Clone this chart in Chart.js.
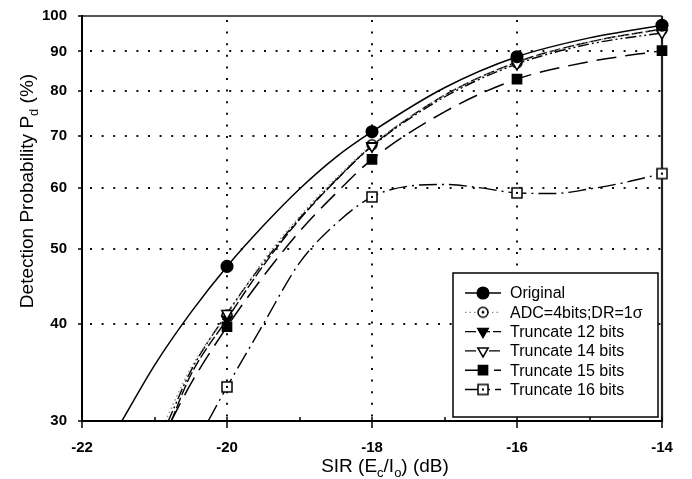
<!DOCTYPE html>
<html><head><meta charset="utf-8">
<script src="https://cdn.jsdelivr.net/npm/chart.js@4/dist/chart.umd.min.js"></script>
<style>html,body{margin:0;padding:0;background:#fff;} #wrap{width:692px;height:479px;}</style>
</head><body><div id="wrap"><canvas id="c" width="692" height="479"></canvas></div>
<script>
// ---- data ----
const seriesNames = ['Original', 'ADC=4bits;DR=1\u03c3', 'Truncate 12 bits', 'Truncate 14 bits', 'Truncate 15 bits', 'Truncate 16 bits'];
const sirMeasured = [-20, -18, -16, -14];
const pdOriginal = [47.5, 70.9, 88.6, 97.3];
const pdAdc = [41.1, 68.2, 87.0, 96.0];
const pdTrunc12 = [40.6, 68.0, 87.2, 96.2];
const pdTrunc14 = [41.3, 67.9, 86.7, 95.1];
const pdTrunc15 = [39.7, 65.3, 82.9, 90.2];
const pdTrunc16 = [33.2, 58.4, 59.1, 62.6];

// fitted curves
const fitOriginalX = [-21.45, -21, -20.5, -20, -19.5, -19, -18.5, -18, -17, -16, -15, -14];
const fitOriginalY = [30, 35.4, 41.4, 47.5, 53.6, 59.8, 65.7, 70.9, 80.8, 88.6, 93.7, 97.3];
const fitAdcX = [-20.85, -20.5, -20, -19.5, -19, -18.5, -18, -17, -16, -15, -14];
const fitAdcY = [30, 35.1, 41.1, 48.3, 55.1, 61.7, 68.2, 79.0, 87.0, 92.6, 96.0];
const fitTrunc12X = [-20.77, -20.5, -20, -19.5, -19, -18.5, -18, -17, -16, -15, -14];
const fitTrunc12Y = [30, 34.4, 40.6, 47.6, 54.6, 61.3, 68.0, 79.0, 87.2, 92.6, 96.2];
const fitTrunc14X = [-20.81, -20.5, -20, -19.5, -19, -18.5, -18, -17, -16, -15, -14];
const fitTrunc14Y = [30, 34.8, 41.3, 48.0, 54.8, 61.4, 67.9, 78.6, 86.7, 92.0, 95.1];
const fitTrunc15X = [-20.77, -20.5, -20, -19.5, -19, -18.5, -18, -17, -16, -15, -14];
const fitTrunc15Y = [30, 33.5, 39.7, 46.1, 52.7, 59.0, 65.3, 75.2, 82.9, 87.3, 90.2];
const fitTrunc16X = [-20.26, -20, -19.5, -19, -18.5, -18, -17.5, -17, -16.5, -16, -15.5, -15, -14.5, -14];
const fitTrunc16Y = [30, 33.2, 40.0, 48.0, 53.9, 58.4, 60.3, 60.6, 60.0, 59.1, 59.0, 59.8, 61.0, 62.6];

const xTicks = [-22, -20, -18, -16, -14];
const xMinorTicks = [-21, -19, -17, -15];
const yTicks = [30, 40, 50, 60, 70, 80, 90, 100];
const xGridLines = [-20, -18, -16];
const yGridLines = [40, 50, 60, 70, 80, 90];

const FONT = '"Liberation Sans", Arial, sans-serif';

function pts(xs, ys) { return xs.map((x, i) => ({x: x, y: ys[i]})); }

function markerCanvas(kind) {
  const s = 16, c = document.createElement('canvas');
  c.width = s; c.height = s;
  const g = c.getContext('2d');
  g.lineWidth = 1.5; g.strokeStyle = '#000'; g.fillStyle = '#fff';
  if (kind === 'circleDot') {
    g.beginPath(); g.arc(8, 8, 5, 0, Math.PI * 2); g.fill(); g.stroke();
    g.fillStyle = '#000'; g.beginPath(); g.arc(8, 8, 1.4, 0, Math.PI * 2); g.fill();
  } else {
    g.fillRect(3, 3, 10, 10); g.strokeRect(3, 3, 10, 10);
    g.fillStyle = '#000'; g.fillRect(7, 7, 2, 2);
  }
  return c;
}
const circleDot = markerCanvas('circleDot');
const squareDot = markerCanvas('squareDot');

const markerSpecs = [
  {data: pdOriginal, pointStyle: 'circle', radius: 5.8, rotation: 0, bg: '#000', order: 0},
  {data: pdAdc, pointStyle: circleDot, radius: 6, rotation: 0, bg: '#fff', order: 4},
  {data: pdTrunc12, pointStyle: 'triangle', radius: 6, rotation: 180, bg: '#000', order: 3},
  {data: pdTrunc14, pointStyle: 'triangle', radius: 6, rotation: 180, bg: '#fff', order: 1},
  {data: pdTrunc15, pointStyle: 'rect', radius: 6.5, rotation: 0, bg: '#000', order: 2},
  {data: pdTrunc16, pointStyle: squareDot, radius: 6, rotation: 0, bg: '#fff', order: 1}
];
const curveSpecs = [
  {data: pts(fitOriginalX, fitOriginalY), dash: [], color: '#000', width: 1.5},
  {data: pts(fitAdcX, fitAdcY), dash: [1.5, 3], color: '#8a8a8a', width: 1.3},
  {data: pts(fitTrunc12X, fitTrunc12Y), dash: [11, 3], color: '#000', width: 1.4},
  {data: pts(fitTrunc14X, fitTrunc14Y), dash: [11, 3, 2, 3, 2, 3], color: '#000', width: 1.4},
  {data: pts(fitTrunc15X, fitTrunc15Y), dash: [20, 9], color: '#000', width: 1.5},
  {data: pts(fitTrunc16X, fitTrunc16Y), dash: [18, 5, 2, 5], color: '#000', width: 1.4}
];

const datasets = [];
markerSpecs.forEach((m, i) => {
  datasets.push({
    label: seriesNames[i],
    data: pts(sirMeasured, m.data),
    showLine: false,
    clip: false,
    order: m.order,
    pointStyle: m.pointStyle,
    pointRadius: m.radius,
    pointRotation: m.rotation,
    pointBackgroundColor: m.bg,
    pointBorderColor: '#000',
    pointBorderWidth: 1.5
  });
});
curveSpecs.forEach((c, i) => {
  datasets.push({
    label: seriesNames[i] + ' fit',
    data: c.data,
    showLine: true,
    order: 10,
    pointRadius: 0,
    borderColor: c.color,
    borderWidth: c.width,
    borderDash: c.dash,
    cubicInterpolationMode: 'monotone',
    fill: false
  });
});

function drawRich(ctx, parts, x, y, size) {
  let cx = x;
  parts.forEach(p => {
    ctx.font = (p.sub ? Math.round(size * 0.68) : size) + 'px ' + FONT;
    ctx.fillText(p.t, cx, y + (p.sub ? size * 0.28 : 0));
    cx += ctx.measureText(p.t).width;
  });
  return cx - x;
}
function richWidth(ctx, parts, size) {
  let w = 0;
  parts.forEach(p => {
    ctx.font = (p.sub ? Math.round(size * 0.68) : size) + 'px ' + FONT;
    w += ctx.measureText(p.t).width;
  });
  return w;
}

const framePlugin = {
  id: 'frame',
  beforeDatasetsDraw(chart) {
    const {ctx, chartArea: a, scales: {x, y}} = chart;
    ctx.save();
    ctx.strokeStyle = '#111';
    ctx.lineWidth = 2;
    ctx.setLineDash([2, 9.6]);
    xGridLines.forEach(v => {
      const px = Math.round(x.getPixelForValue(v));
      ctx.beginPath(); ctx.moveTo(px, a.top + 4); ctx.lineTo(px, a.bottom); ctx.stroke();
    });
    yGridLines.forEach(v => {
      const py = Math.round(y.getPixelForValue(v));
      ctx.beginPath(); ctx.moveTo(a.left + 8, py); ctx.lineTo(a.right, py); ctx.stroke();
    });
    ctx.setLineDash([]);
    // frame (drawn before datasets so markers sit on top of it)
    ctx.strokeStyle = '#555'; ctx.lineWidth = 2;
    ctx.beginPath(); ctx.moveTo(a.left, a.top); ctx.lineTo(a.right, a.top); ctx.stroke();
    ctx.strokeStyle = '#222'; ctx.lineWidth = 2.2;
    ctx.beginPath(); ctx.moveTo(a.right, a.top); ctx.lineTo(a.right, a.bottom + 1); ctx.stroke();
    ctx.restore();
  },
  afterDatasetsDraw(chart) {
    const {ctx, chartArea: a, scales: {x, y}} = chart;
    ctx.save();
    ctx.setLineDash([]);
    ctx.strokeStyle = '#000'; ctx.lineWidth = 2;
    ctx.beginPath(); ctx.moveTo(a.left, a.top - 1); ctx.lineTo(a.left, a.bottom); ctx.lineTo(a.right, a.bottom); ctx.stroke();
    // ticks
    ctx.lineWidth = 1.5;
    yTicks.forEach(v => {
      const py = Math.round(y.getPixelForValue(v));
      ctx.beginPath(); ctx.moveTo(a.left - 4, py); ctx.lineTo(a.left, py); ctx.stroke();
    });
    xTicks.forEach(v => {
      const px = Math.round(x.getPixelForValue(v));
      ctx.beginPath(); ctx.moveTo(px, a.bottom - 4); ctx.lineTo(px, a.bottom + 7); ctx.stroke();
    });
    xMinorTicks.forEach(v => {
      const px = Math.round(x.getPixelForValue(v));
      ctx.beginPath(); ctx.moveTo(px, a.bottom - 4); ctx.lineTo(px, a.bottom); ctx.stroke();
    });

    // legend
    const lx = 453, ly = 273, lw = 205, lh = 144;
    ctx.fillStyle = '#fff';
    ctx.fillRect(lx, ly, lw, lh);
    ctx.strokeStyle = '#000'; ctx.lineWidth = 1.5;
    ctx.strokeRect(lx, ly, lw, lh);
    seriesNames.forEach((name, i) => {
      const ry = 293 + i * 19.3;
      const cs = curveSpecs[i];
      ctx.strokeStyle = cs.color; ctx.lineWidth = cs.width;
      ctx.setLineDash(cs.dash);
      ctx.beginPath(); ctx.moveTo(465, ry); ctx.lineTo(501, ry); ctx.stroke();
      ctx.setLineDash([]);
      const m = markerSpecs[i];
      ctx.fillStyle = m.bg; ctx.strokeStyle = '#000'; ctx.lineWidth = 1.5;
      Chart.helpers.drawPoint(ctx, {pointStyle: m.pointStyle, radius: m.radius, rotation: m.rotation, borderWidth: 1.5}, 483, ry);
      ctx.fillStyle = '#000';
      ctx.font = '16px ' + FONT;
      ctx.textBaseline = 'middle'; ctx.textAlign = 'left';
      ctx.fillText(name, 510, ry + 1);
    });

    // axis titles
    ctx.fillStyle = '#000';
    ctx.textBaseline = 'alphabetic'; ctx.textAlign = 'left';
    const xt = [{t: 'SIR (E'}, {t: 'c', sub: true}, {t: '/I'}, {t: 'o', sub: true}, {t: ') (dB)'}];
    const xw = richWidth(ctx, xt, 19);
    drawRich(ctx, xt, 385 - xw / 2, 472, 19);
    const yt = [{t: 'Detection Probability P'}, {t: 'd', sub: true}, {t: ' (%)'}];
    const yw = richWidth(ctx, yt, 19);
    ctx.translate(33, 191);
    ctx.rotate(-Math.PI / 2);
    drawRich(ctx, yt, -yw / 2, 0, 19);
    ctx.restore();
  }
};

new Chart(document.getElementById('c'), {
  type: 'scatter',
  data: {datasets: datasets},
  plugins: [framePlugin],
  options: {
    responsive: false,
    animation: false,
    devicePixelRatio: 1,
    layout: {padding: {top: 14, right: 30, left: 0, bottom: 0}},
    plugins: {legend: {display: false}, tooltip: {enabled: false}},
    scales: {
      x: {
        type: 'linear', min: -22, max: -14,
        afterBuildTicks: s => { s.ticks = xTicks.map(v => ({value: v})); },
        afterFit: s => { s.height = 58; },
        grid: {display: false}, border: {display: false},
        ticks: {color: '#000', padding: 10, maxRotation: 0, font: {family: FONT, size: 15, weight: 'bold'}, callback: v => String(v)}
      },
      y: {
        type: 'logarithmic', min: 30, max: 100,
        afterBuildTicks: s => { s.ticks = yTicks.map(v => ({value: v})); },
        afterFit: s => { s.width = 82; },
        grid: {display: false}, border: {display: false},
        ticks: {color: '#000', padding: 7, font: {family: FONT, size: 15, weight: 'bold'}, callback: v => String(v)}
      }
    }
  }
});
</script>
</body></html>
